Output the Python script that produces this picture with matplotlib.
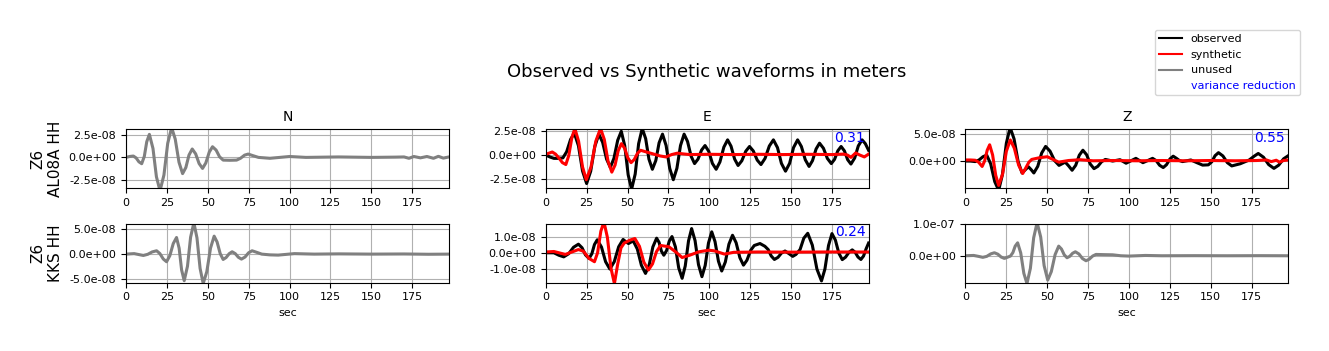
import matplotlib
matplotlib.use("Agg")
import matplotlib.pyplot as plt
from matplotlib.lines import Line2D
from matplotlib.ticker import FormatStrFormatter
import numpy as np

# waveforms, (sec, amplitude in 1e-8 m)
n1_obs = [(0, 0.0), (2.2, 0.1), (4.5, 0.15), (6.2, -0.06), (7.9, -0.49), (9.6, -0.7),
          (11.2, 0.11), (12.7, 1.74), (14.3, 2.55), (16.5, 0.99), (18.6, -2.14), (20.8, -3.7),
          (23.2, -1.95), (25.5, 1.55), (27.9, 3.3), (30.1, 2.03), (32.4, -0.53), (34.6, -1.8),
          (36.6, -1.12), (38.5, 0.25), (40.5, 0.93), (42.6, 0.39), (44.7, -0.68), (46.8, -1.22),
          (48.8, -0.62), (50.9, 0.58), (52.9, 1.18), (55.1, 0.81), (57.2, 0.07), (59.4, -0.3),
          (63.5, -0.32), (67.6, -0.3), (70, -0.1), (72.5, 0.25), (74.7, 0.37), (77.5, 0.2),
          (81, 0.0), (88, -0.1), (94, 0.0), (100, 0.1), (110, 0.0), (130, 0.05), (150, 0.0),
          (165, 0.03), (170, 0.05), (173, -0.1), (176, 0.1), (180, -0.05), (184, 0.1),
          (188, -0.1), (191, 0.12), (194, -0.08), (197.4, 0.05)]

e1_obs = [(0, 0.0), (2.5, -0.2), (5, -0.35), (7.5, -0.35), (10.5, -0.3), (12.8, 0.35),
          (15.2, 1.65), (17.5, 2.3), (20, 0.98), (22.5, -1.68), (25, -3.0), (27.5, -1.7),
          (30, 0.9), (32.5, 2.2), (34.8, 1.33), (37.2, -0.43), (39.5, -1.3), (41.7, -0.35),
          (44.0, 1.55), (46.2, 2.5), (48.3, 0.98), (50.4, -2.08), (52.5, -3.6), (54.7, -2.0),
          (56.8, 1.2), (59, 2.8), (61.1, 1.73), (63.1, -0.43), (65.2, -1.5), (67.3, -0.58),
          (69.3, 1.28), (71.4, 2.2), (73.6, 1.0), (75.8, -1.4), (78, -2.6), (80.2, -1.4),
          (82.4, 1.0), (84.6, 2.2), (86.7, 1.43), (88.9, -0.13), (91, -0.9), (93.1, -0.43),
          (95.3, 0.53), (97.4, 1.0), (99.7, 0.38), (101.9, -0.88), (104.2, -1.5), (106.5, -0.73),
          (108.9, 0.83), (111.2, 1.6), (113.3, 0.93), (115.5, -0.43), (117.6, -1.1), (119.9, -0.6),
          (122.3, 0.4), (124.6, 0.9), (126.9, 0.43), (129.3, -0.53), (131.6, -1.0), (134.1, -0.35),
          (136.7, 0.95), (139.2, 1.6), (141.7, 0.78), (144.1, -0.88), (146.6, -1.7), (149.1, -0.88),
          (151.5, 0.78), (154, 1.6), (156.3, 0.9), (158.7, -0.5), (161, -1.2), (163.1, -0.59),
          (165.3, 0.64), (167.4, 1.25), (169.8, 0.71), (172.2, -0.36), (174.6, -0.9), (176.6, -0.45),
          (178.6, 0.45), (180.6, 0.9), (182.6, 0.44), (184.6, -0.49), (186.6, -0.95), (188.9, -0.31),
          (191.1, 0.96), (193.4, 1.6), (195.4, 1.2), (197.4, 0.5)]

e1_syn = [(0, 0.07), (2, 0.2), (4, 0.32), (6, 0.1), (8, -0.3), (10.2, -0.8), (12.3, -1.0),
          (14.1, -0.05), (16.0, 1.85), (17.8, 2.8), (20.1, 1.45), (22.5, -1.25), (24.8, -2.6),
          (27.7, -1.25), (30.6, 1.45), (33.5, 2.8), (35.8, 1.65), (38.1, -0.65), (40.4, -1.8),
          (42.4, -1.05), (44.3, 0.45), (46.3, 1.2), (48.3, 0.7), (50.2, -0.3), (52.2, -0.8),
          (54.1, -0.48), (56.1, 0.18), (58, 0.5), (62, 0.3), (66, 0.1), (70, -0.1), (73.5, -0.2),
          (77, 0.05), (80.5, 0.2), (84, 0.12), (88, 0.05), (100, 0.08), (115, 0.05), (130, 0.08),
          (145, 0.05), (160, 0.08), (175, 0.05), (182, 0.1), (184.5, 0.0), (186.6, -0.25),
          (189.5, 0.22), (192, 0.0), (194.8, -0.2), (197.4, 0.1)]

z1_obs = [(0, 0.0), (3, 0.0), (6, -0.1), (8.3, 0.2), (10.7, 0.8), (13, 1.1), (15.4, -0.5),
          (17.9, -3.8), (20.3, -5.4), (22.6, -2.5), (25, 3.3), (27.3, 6.2), (29.7, 4.1),
          (32.2, -0.1), (34.6, -2.2), (36.6, -1.6), (38.5, -1.05), (40.2, -1.6), (41.8, -2.2),
          (44.2, -0.98), (46.6, 1.48), (49, 2.7), (51.7, 1.83), (54.5, 0.08), (57.2, -0.8),
          (61, -0.2), (63.1, -0.9), (65.2, -1.7), (67.4, -0.78), (69.6, 1.08), (71.8, 2.0),
          (74.1, 1.15), (76.3, -0.55), (78.6, -1.4), (80.9, -0.98), (83.2, -0.13), (85.5, 0.3),
          (90, 0.0), (94.5, 0.25), (98.2, -0.4), (101.2, 0.05), (104.2, 0.5), (108.5, -0.3),
          (111.5, 0.1), (114.4, 0.5), (116.6, 0.08), (118.7, -0.78), (120.9, -1.2), (122.9, -0.68),
          (125, 0.38), (127, 0.9), (129, 0.5), (130.8, 0.1), (132.7, -0.1), (137.8, 0.2),
          (141.5, -0.3), (145, -0.75), (148.5, -0.7), (150.6, -0.14), (152.6, 0.99), (154.7, 1.55),
          (157.4, 0.94), (160.1, -0.29), (162.8, -0.9), (168, -0.5), (173.5, 0.2), (176.5, 0.9),
          (179, 1.4), (182.2, 0.71), (185.4, -0.66), (188.6, -1.35), (191.5, -0.76), (194.5, 0.41),
          (197.4, 1.0)]

z1_syn = [(0, 0.2), (3, 0.2), (6, 0.15), (8, -0.2), (10.2, -1.0), (11.7, 0.0), (13.3, 2.0),
          (14.8, 3.0), (16.6, 1.13), (18.5, -2.63), (20.3, -4.5), (22.7, -2.4), (25, 1.8),
          (27.4, 3.9), (29.9, 2.35), (32.5, -0.75), (35, -2.3), (37, -1.2), (38.8, -0.2),
          (40.5, 0.3), (45, 0.6), (50, 0.8), (53.5, 0.3), (57, -0.2), (63, 0.1), (70, 0.25),
          (78, 0.05), (90, 0.1), (105, 0.05), (120, 0.1), (135, 0.05), (150, 0.1), (165, 0.05),
          (178, 0.1), (184, 0.2), (187, -0.1), (190, 0.15), (192, -0.2), (194.5, 0.1), (197.4, 0.2)]

n2_obs = [(0, 0.0), (5, 0.1), (8, -0.1), (10.6, -0.27), (13.3, -0.04), (16, 0.44), (18.7, 0.67),
          (20.7, 0.12), (22.8, -0.98), (24.8, -1.53), (26.8, -0.32), (28.9, 2.12), (30.9, 3.33),
          (32.5, 1.17), (34.0, -3.17), (35.6, -5.33), (37.6, -2.42), (39.5, 3.39), (41.5, 6.3),
          (43.4, 3.25), (45.3, -2.85), (47.2, -5.9), (49.4, -3.53), (51.7, 1.23), (53.9, 3.6),
          (55.7, 2.43), (57.6, 0.1), (59.4, -1.07), (61.2, -0.69), (63.1, 0.09), (64.9, 0.47),
          (66.8, 0.1), (68.7, -0.63), (70.6, -1.0), (72.8, -0.58), (74.9, 0.25), (77.1, 0.67),
          (80, 0.35), (83, 0.0), (88, -0.15), (93, -0.2), (98, -0.05), (103, 0.1), (115, 0.0),
          (130, 0.05), (150, 0.0), (170, 0.03), (185, -0.03), (197.4, 0.0)]

e2_obs = [(0, 0.0), (5, 0.0), (8, -0.15), (11, -0.25), (14, -0.06), (17, 0.34), (20, 0.53),
          (22.2, 0.31), (24.3, -0.13), (26.5, -0.35), (28.2, -0.06), (29.8, 0.51), (31.5, 0.8),
          (34.1, 0.35), (36.6, -0.55), (39.2, -1.0), (41.9, -0.55), (44.6, 0.37), (47.3, 0.82),
          (49, 0.68), (50.6, 0.57), (52, 0.65), (53.5, 0.73), (56, 0.23), (58.5, -0.77), (61, -1.27),
          (63.3, -0.73), (65.5, 0.36), (67.8, 0.9), (69.3, 0.64), (70.7, 0.11), (72.2, -0.15),
          (73.9, 0.14), (75.5, 0.71), (77.2, 1.0), (79.3, 0.36), (81.3, -0.93), (83.4, -1.57),
          (85.3, -0.81), (87.3, 0.73), (89.2, 1.49), (91.3, 0.75), (93.4, -0.73), (95.5, -1.47),
          (97.5, -0.78), (99.5, 0.6), (101.5, 1.29), (103.5, 0.69), (105.6, -0.52), (107.6, -1.12),
          (109.8, -0.57), (112, 0.53), (114.2, 1.08), (116.4, 0.62), (118.7, -0.3), (120.9, -0.76),
          (123, -0.46), (125.3, 0.15), (127.5, 0.45), (131, 0.57), (134, 0.4), (136, 0.2),
          (137.9, -0.2), (139.8, -0.41), (142, -0.28), (144.1, -0.02), (146.3, 0.11), (148.7, -0.05),
          (151, -0.22), (153, -0.1), (155.5, 0.2), (157.8, 0.9), (160.2, 1.2), (163, 0.47),
          (165.8, -1.0), (168.6, -1.73), (170.7, -1.0), (172.9, 0.45), (175, 1.18), (177.1, 0.78),
          (179.2, -0.02), (181.3, -0.42), (183.3, -0.27), (185.4, 0.03), (187.4, 0.18), (189.2, 0.03),
          (190.9, -0.26), (192.7, -0.41), (194.3, -0.2), (195.9, 0.25), (197.4, 0.6)]

e2_syn = [(0, 0.05), (5, 0.08), (12, -0.1), (16, 0.05), (20, 0.2), (23, 0.1), (26.5, -0.35),
          (29.8, -0.55), (31.7, 0.0), (33.7, 1.33), (35.6, 1.9), (37.7, 0.95), (39.9, -0.95),
          (42, -1.9), (44, -0.7), (46, 0.3), (48, 0.6), (51.5, 0.78), (54.5, 0.88), (57.3, 0.4),
          (60, -0.58), (62.8, -1.06), (65.3, -0.68), (67.7, 0.07), (70.2, 0.45), (75.3, 0.37),
          (79.5, 0.05), (83.4, -0.29), (88, -0.15), (93.6, 0.06), (99.7, 0.16), (103, 0.12),
          (109.3, -0.08), (115, 0.03), (130, 0.05), (150, 0.04), (170, 0.05), (185, 0.05), (197.4, 0.05)]

z2_obs = [(0, 0.0), (5, 0.1), (8, -0.2), (10.6, -0.5), (13, -0.2), (15.5, 0.6), (17.7, 0.95),
          (19.8, 0.5), (21.8, -0.4), (23.8, -0.84), (27.5, -0.1), (29, 1.0), (30.4, 3.05),
          (31.9, 4.1), (33.8, 0.88), (35.7, -5.58), (37.6, -8.8), (39.7, -3.98), (41.7, 5.68),
          (43.8, 10.5), (46, 5.95), (48.1, -3.15), (50.3, -7.7), (52.5, -5.01), (54.8, 0.36),
          (57, 3.05), (58.7, 2.13), (60.4, 0.29), (62.1, -0.63), (63.8, -0.16), (65.5, 0.79),
          (67.2, 1.26), (69.4, 0.55), (71.5, -0.87), (73.7, -1.58), (75.7, -1.08), (77.8, -0.08),
          (79.8, 0.42), (85, 0.35), (90, 0.3), (95, 0.0), (100, -0.1), (110, 0.1), (120, 0.0),
          (140, 0.03), (160, 0.0), (180, 0.03), (197.4, 0.0)]

components = ["N", "E", "Z"]
stations = ["Z6\nAL08A HH", "Z6\nKKS HH"]
var_red = {(0, 1): "0.31", (0, 2): "0.55", (1, 1): "0.24"}

# (row, col): (observed, synthetic, used, ylim, yticks)
panels = {
    (0, 0): (n1_obs, None, False, (-3.44, 3.11), [-2.5, 0, 2.5]),
    (0, 1): (e1_obs, e1_syn, True, (-3.52, 2.71), [-2.5, 0, 2.5]),
    (0, 2): (z1_obs, z1_syn, True, (-5.06, 5.86), [0, 5]),
    (1, 0): (n2_obs, None, False, (-5.73, 6.13), [-5, 0, 5]),
    (1, 1): (e2_obs, e2_syn, True, (-1.84, 1.80), [-1, 0, 1]),
    (1, 2): (z2_obs, None, False, (-8.53, 10.2), [0, 10]),
}

fig, axes = plt.subplots(2, 3, figsize=(13.29, 3.51), dpi=100)
fig.subplots_adjust(left=0.0948, right=0.9694, bottom=0.1946, top=0.6316,
                    wspace=0.3, hspace=0.593)

for (r, c), (obs, syn, used, ylim, yt) in panels.items():
    ax = axes[r, c]
    t, v = np.array(obs).T
    ax.plot(t, v * 1e-8, color="black" if used else "gray", lw=2.2)
    if syn is not None:
        ts, vs = np.array(syn).T
        ax.plot(ts, vs * 1e-8, color="red", lw=2.2)
    ax.set_xlim(0, 197.4)
    ax.set_ylim(ylim[0] * 1e-8, ylim[1] * 1e-8)
    ax.set_xticks(np.arange(0, 176, 25))
    ax.set_yticks(np.array(yt) * 1e-8)
    ax.yaxis.set_major_formatter(FormatStrFormatter("%.1e"))
    ax.tick_params(labelsize=8)
    ax.grid(True)
    if (r, c) in var_red:
        ax.text(0.99, 0.85, var_red[(r, c)], transform=ax.transAxes, ha="right",
                va="center", color="blue", fontsize=10)
    if r == 0:
        ax.set_title(components[c], fontsize=10)
    else:
        ax.set_xlabel("sec", fontsize=8)
    if c == 0:
        ax.set_ylabel(stations[r], fontsize=11)

fig.text(0.532, 0.795, "Observed vs Synthetic waveforms in meters", ha="center",
         va="center", fontsize=13)

handles = [Line2D([], [], color="black"), Line2D([], [], color="red"),
           Line2D([], [], color="gray"), Line2D([], [], color="none")]
leg = fig.legend(handles, ["observed", "synthetic", "unused", "variance reduction"],
                 loc="upper right", bbox_to_anchor=(0.978, 0.915), borderaxespad=0,
                 fontsize=8)
leg.get_texts()[3].set_color("blue")

fig.savefig("out.png", dpi=100)
